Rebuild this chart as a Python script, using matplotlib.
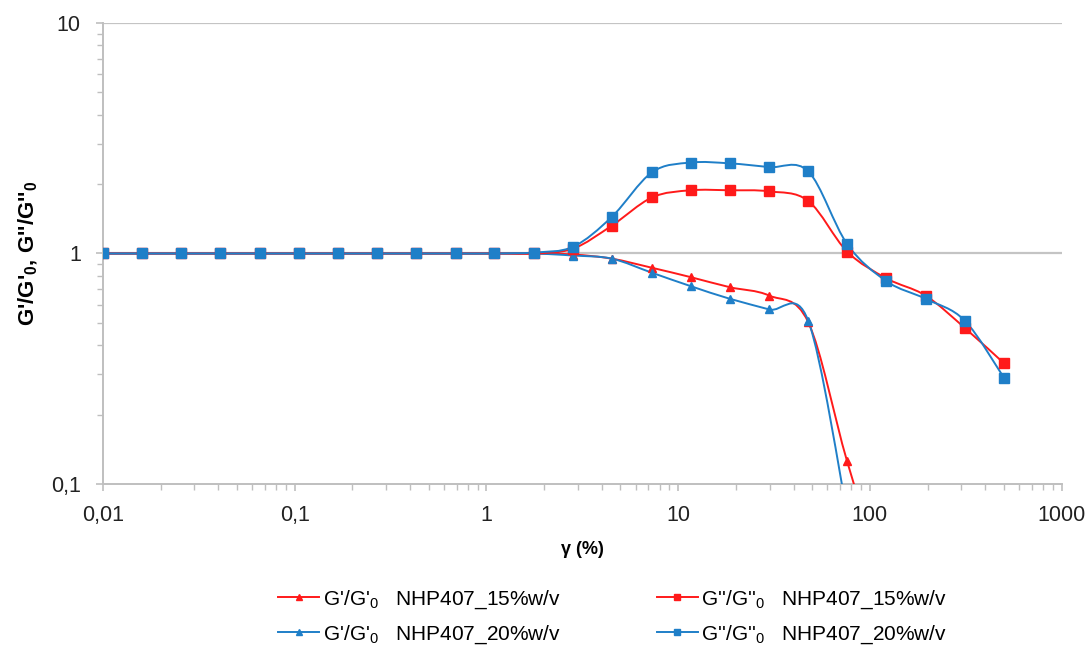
import numpy as np
import matplotlib
matplotlib.use("Agg")
import matplotlib.pyplot as plt
from matplotlib.path import Path
from matplotlib.patches import PathPatch
from matplotlib.lines import Line2D
from matplotlib.ticker import FixedLocator, FixedFormatter, LogLocator, NullFormatter

plt.rcParams["font.family"] = ["Liberation Sans", "DejaVu Sans"]
plt.rcParams["mathtext.fontset"] = "custom"
plt.rcParams["mathtext.rm"] = "Liberation Sans"
plt.rcParams["mathtext.bf"] = "Liberation Sans:bold"

# deformación (%)
strain = [0.01, 0.016, 0.0256, 0.041, 0.066, 0.105, 0.168, 0.27, 0.43, 0.69,
          1.1, 1.77, 2.83, 4.5, 7.3, 11.6, 18.6, 29.8, 47.7, 76, 122, 195, 312, 500]

# G'/G'0 y G''/G''0 para cada formulación
gp_15 = [1.0, 1.0, 1.0, 1.0, 1.0, 1.0, 1.0, 1.0, 1.0, 1.0,
         1.0, 1.0, 0.99, 0.95, 0.867, 0.79, 0.714, 0.657, 0.503, 0.1256, 0.035]
gp_20 = [1.0, 1.0, 1.0, 1.0, 1.0, 1.0, 1.0, 1.0, 1.0, 1.0,
         1.0, 1.0, 0.98, 0.95, 0.825, 0.722, 0.636, 0.572, 0.51, 0.075]
gpp_15 = [1.0, 1.0, 1.0, 1.0, 1.0, 1.0, 1.0, 1.0, 1.0, 1.0,
          1.0, 1.0, 1.05, 1.32, 1.75, 1.88, 1.88, 1.86, 1.69, 1.02, 0.78, 0.657, 0.476, 0.334]
gpp_20 = [1.0, 1.0, 1.0, 1.0, 1.0, 1.0, 1.0, 1.0, 1.0, 1.0,
          1.0, 1.01, 1.07, 1.44, 2.25, 2.48, 2.46, 2.37, 2.27, 1.10, 0.758, 0.636, 0.512, 0.289]

labels = [r"G'/G'$_0$   NHP407_15%w/v",
          r"G'/G'$_0$   NHP407_20%w/v",
          r"G''/G''$_0$   NHP407_15%w/v",
          r"G''/G''$_0$   NHP407_20%w/v"]

RED = "#ff1a1a"
BLUE = "#1f7fc8"


def smooth_path(x, y, t=1 / 6):
    """Curva suavizada tipo Excel (Bezier cúbica en espacio log-log)."""
    lx = np.log10(np.asarray(x, float))
    ly = np.log10(np.asarray(y, float))
    n = len(lx)
    verts = [(lx[0], ly[0])]
    codes = [Path.MOVETO]
    for i in range(n - 1):
        p0 = np.array([lx[max(i - 1, 0)], ly[max(i - 1, 0)]])
        p1 = np.array([lx[i], ly[i]])
        p2 = np.array([lx[i + 1], ly[i + 1]])
        p3 = np.array([lx[min(i + 2, n - 1)], ly[min(i + 2, n - 1)]])
        c1 = p1 + (p2 - p0) * t
        c2 = p2 - (p3 - p1) * t
        verts += [tuple(c1), tuple(c2), tuple(p2)]
        codes += [Path.CURVE4] * 3
    verts = [(10 ** a, 10 ** b) for a, b in verts]
    return Path(verts, codes)


fig = plt.figure(figsize=(10.9, 6.51), dpi=100)
ax = fig.add_axes([0.0945, 0.2565, 0.8795, 0.7082])
ax.set_xscale("log")
ax.set_yscale("log")
ax.set_xlim(0.01, 1000)
ax.set_ylim(0.1, 10)

series = [
    (gp_15, RED, "^", 6),
    (gp_20, BLUE, "^", 6),
    (gpp_15, RED, "s", 6.5),
    (gpp_20, BLUE, "s", 6.5),
]

for vals, color, mk, ms in series:
    xs = strain[:len(vals)]
    ax.add_patch(PathPatch(smooth_path(xs, vals), fill=False, edgecolor=color,
                           lw=1.4, zorder=3))
    ax.plot(xs, vals, linestyle="none", marker=mk, ms=ms, color=color,
            mec=color, zorder=4, clip_on=True)

# rejilla horizontal en las décadas
for yv in [1, 10]:
    ax.axhline(yv, color="#c4c4c4", lw=1.6, zorder=1)

for s in ["top", "right"]:
    ax.spines[s].set_visible(False)
for s in ["left", "bottom"]:
    ax.spines[s].set_color("#bfbfbf")
    ax.spines[s].set_linewidth(1.4)

ax.xaxis.set_major_locator(FixedLocator([0.01, 0.1, 1, 10, 100, 1000]))
ax.xaxis.set_major_formatter(FixedFormatter(["0,01", "0,1", "1", "10", "100", "1000"]))
ax.yaxis.set_major_locator(FixedLocator([0.1, 1, 10]))
ax.yaxis.set_major_formatter(FixedFormatter(["0,1", "1", "10"]))
ax.xaxis.set_minor_locator(LogLocator(base=10, subs=np.arange(2, 10), numticks=20))
ax.yaxis.set_minor_locator(LogLocator(base=10, subs=np.arange(2, 10), numticks=20))
ax.xaxis.set_minor_formatter(NullFormatter())
ax.yaxis.set_minor_formatter(NullFormatter())
ax.tick_params(which="major", direction="out", length=5, width=1.2, color="#bfbfbf",
               labelsize=15.5, labelcolor="#222222")
ax.tick_params(axis="x", which="major", pad=10)
ax.tick_params(axis="y", which="major", pad=11)
ax.tick_params(which="minor", direction="out", length=4, width=1.0, color="#bfbfbf")

ax.set_xlabel("γ (%)", fontsize=13, fontweight="bold", labelpad=11)
ax.set_ylabel(r"G'/G'$_\mathbf{0}$, G''/G''$_\mathbf{0}$", fontsize=16,
              fontweight="bold")
ax.yaxis.set_label_coords(-0.066, 0.5)

handles = [
    Line2D([], [], color=RED, lw=1.4, marker="^", ms=5),
    Line2D([], [], color=BLUE, lw=1.4, marker="^", ms=5),
    Line2D([], [], color=RED, lw=1.4, marker="s", ms=5),
    Line2D([], [], color=BLUE, lw=1.4, marker="s", ms=5),
]
fig.legend(handles, labels, ncol=2, loc="center", bbox_to_anchor=(0.562, 0.0525),
           frameon=False, fontsize=15, handlelength=2.0, handletextpad=0.15,
           columnspacing=4.6, labelspacing=0.6, borderaxespad=0, borderpad=0)

fig.savefig("out.png", dpi=100)
